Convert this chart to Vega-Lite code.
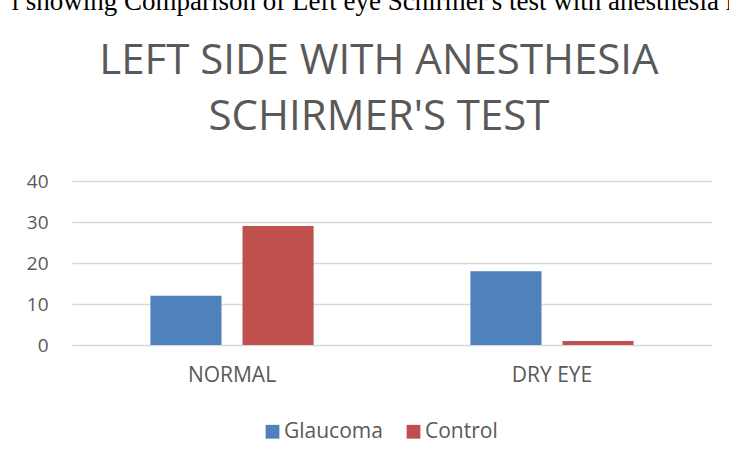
{
  "$schema": "https://vega.github.io/schema/vega-lite/v6.json",
  "width": 640,
  "height": 164,
  "autosize": {"type": "none"},
  "padding": {"left": 72, "top": 181, "right": 17, "bottom": 116},
  "background": "white",
  "title": {
    "text": "l showing Comparison of Left eye Schirmer's test with anesthesia in",
    "subtitle": ["LEFT SIDE WITH ANESTHESIA", "SCHIRMER'S TEST"],
    "anchor": "middle",
    "dx": -13,
    "font": "Liberation Serif",
    "fontSize": 27,
    "fontWeight": "normal",
    "color": "black",
    "subtitleFont": "Open Sans",
    "subtitleFontSize": 42,
    "subtitleColor": "#595959",
    "subtitleLineHeight": 56,
    "subtitlePadding": 25,
    "offset": 33
  },
  "data": {
    "values": [
      {"category": "NORMAL", "group": "Glaucoma", "value": 12},
      {"category": "NORMAL", "group": "Control", "value": 29},
      {"category": "DRY EYE", "group": "Glaucoma", "value": 18},
      {"category": "DRY EYE", "group": "Control", "value": 1}
    ]
  },
  "mark": {"type": "bar"},
  "encoding": {
    "x": {
      "field": "category",
      "type": "nominal",
      "sort": ["NORMAL", "DRY EYE"],
      "scale": {"paddingInner": 0.49, "paddingOuter": 0.245},
      "axis": {
        "title": null,
        "labelAngle": 0,
        "domain": false,
        "ticks": false,
        "labelFont": "Open Sans",
        "labelFontSize": 21,
        "labelColor": "#595959",
        "labelPadding": 19
      }
    },
    "xOffset": {
      "field": "group",
      "type": "nominal",
      "sort": ["Glaucoma", "Control"],
      "scale": {"paddingInner": 0.228, "paddingOuter": 0}
    },
    "y": {
      "field": "value",
      "type": "quantitative",
      "scale": {"domain": [0, 40]},
      "axis": {
        "title": null,
        "values": [0, 10, 20, 30, 40],
        "domain": false,
        "ticks": false,
        "labelFont": "Open Sans",
        "labelFontSize": 19,
        "labelColor": "#595959",
        "labelPadding": 24,
        "gridColor": "#d9d9d9",
        "gridWidth": 1.5
      }
    },
    "color": {
      "field": "group",
      "type": "nominal",
      "sort": ["Glaucoma", "Control"],
      "scale": {"domain": ["Glaucoma", "Control"], "range": ["#4F81BD", "#C0504D"]},
      "legend": {
        "title": null,
        "orient": "none",
        "legendX": 190,
        "legendY": 240,
        "direction": "horizontal",
        "symbolType": "square",
        "symbolSize": 190,
        "symbolStrokeWidth": 0,
        "labelFont": "Open Sans",
        "labelFontSize": 21,
        "labelColor": "#595959",
        "labelOffset": 1,
        "columnPadding": 20
      }
    }
  },
  "config": {
    "view": {"stroke": null}
  }
}
